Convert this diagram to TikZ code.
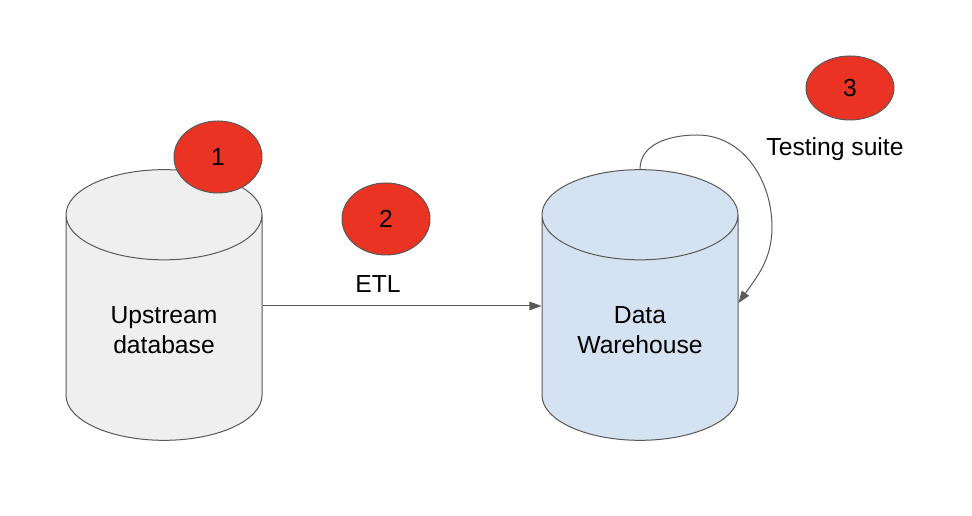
\documentclass[tikz,border=0pt]{standalone}
\usepackage{fontspec}
\setmainfont{Liberation Sans}
\usetikzlibrary{shapes.geometric,arrows.meta,positioning}
\definecolor{numred}{HTML}{EB3323}
\definecolor{edgegray}{HTML}{595959}
\definecolor{dbgray}{HTML}{EFEFEF}
\definecolor{dbblue}{HTML}{D5E2F1}

\begin{document}
\begin{tikzpicture}[x=0.75pt,y=0.75pt,
 lbl/.style={align=center,font=\fontsize{18.5}{22.5}\selectfont},
 db/.style={cylinder,shape border rotate=90,draw=edgegray,line width=0.75pt,aspect=0.46,
  inner xsep=73.5pt,inner ysep=67.5pt,minimum width=147pt,minimum height=202.5pt,
  anchor=shape center},
 num/.style={ellipse,draw=edgegray,line width=0.75pt,fill=numred,minimum width=66pt,
  minimum height=54pt,inner sep=0pt,lbl},
 arr/.style={draw=edgegray,line width=0.75pt,-{Triangle[length=9pt,width=6.5pt]}}]
 \fill[white] (0,0) rectangle (972,516);
 \useasboundingbox (0,0) rectangle (972,516);
 % databases
 \node[db,fill=dbgray] (up) at (164,211) {};
 \node[db,fill=dbblue] (dw) at (640,211) {};
 \node[lbl] (upT) at (164,186) {Upstream\\database};
 \node[lbl] (dwT) at (640,186) {Data\\Warehouse};
 % numbered markers
 \node[num] (n1) at (218,359) {1};
 \node[num] (n2) at (386,297) {2};
 \node[num,minimum height=48pt] (n3) at (850,428) {3};
 \node[lbl] (etl) at (378,232) {ETL};
 \node[lbl] (test) at (835,367) {Testing suite};
 % flows
 \draw[arr] (up.east |- 0,210) -- (dw.west |- 0,210);
 \draw[arr] (dw.north) to[out=90,in=180] (697,381) to[out=0,in=90] (772,289)
  to[out=-90,in=55] (dw.east |- 0,213);
\end{tikzpicture}
\end{document}
